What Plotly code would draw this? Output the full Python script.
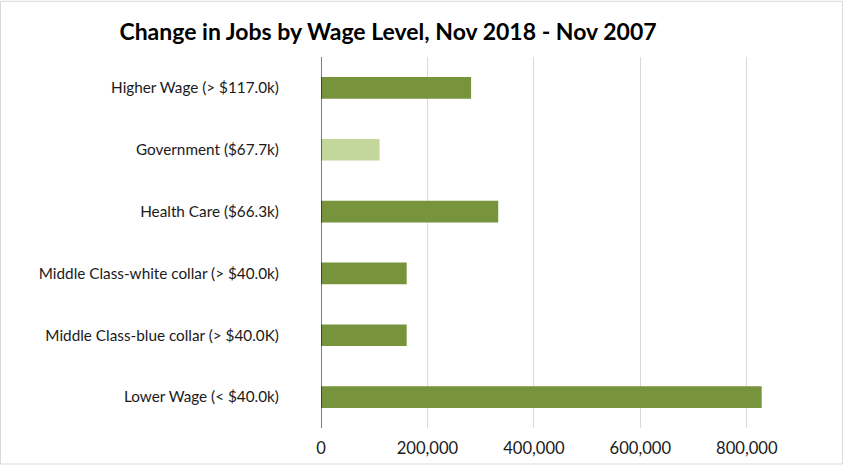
import plotly.graph_objects as go

categories = [
    "Higher Wage (> $117.0k)",
    "Government ($67.7k)",
    "Health Care ($66.3k)",
    "Middle Class-white collar (> $40.0k)",
    "Middle Class-blue collar (> $40.0K)",
    "Lower Wage (< $40.0k)",
]
values = [282000, 110000, 333000, 161000, 161000, 828000]
colors = ["#77933C", "#C3D69B", "#77933C", "#77933C", "#77933C", "#77933C"]
tick_vals = [0, 200000, 400000, 600000, 800000]
tick_text = ["0", "200,000", "400,000", "600,000", "800,000"]

W, H = 843, 470
L, R, T, B = 321, 43, 57, 37
pw, ph = W - L - R, H - T - B

font_fam = "Lato, sans-serif"

fig = go.Figure(go.Bar(
    y=categories, x=values, orientation="h",
    marker=dict(color=colors, line=dict(width=0)),
    hoverinfo="x+y",
))

fig.update_layout(
    width=W, height=H, autosize=False,
    margin=dict(l=L, r=R, t=T, b=B),
    paper_bgcolor="white", plot_bgcolor="white",
    bargap=0.65,
    showlegend=False,
    font=dict(family=font_fam, size=15, color="#1a1a1a"),
    title=dict(
        text="<b>Change in Jobs by Wage Level, Nov 2018 - Nov 2007</b>",
        x=388 / W, xanchor="center", y=1 - 32 / H, yanchor="middle",
        font=dict(family=font_fam, size=23, color="black"),
    ),
    xaxis=dict(
        range=[0, 900000], tickvals=tick_vals, ticktext=tick_text,
        showgrid=True, gridcolor="#D9D9D9", gridwidth=1,
        zeroline=False, showline=False,
        ticks="outside", ticklen=5, tickcolor="rgba(0,0,0,0)",
        tickfont=dict(size=16.6, color="#1a1a1a"),
    ),
    yaxis=dict(
        categoryorder="array", categoryarray=categories, autorange="reversed",
        showgrid=False, zeroline=False,
        showline=False,
        ticks="outside", ticklen=38, tickcolor="rgba(0,0,0,0)",
        tickfont=dict(size=15.3, color="#1a1a1a"),
    ),
    shapes=[
        dict(type="line", xref="x", yref="paper", x0=0, x1=0, y0=0, y1=1,
             line=dict(color="black", width=1)),
        dict(type="rect", xref="paper", yref="paper",
             x0=(0.5 - L) / pw, x1=(W - 0.5 - L) / pw,
             y0=(H - B - (H - 0.5)) / ph, y1=(H - B - 0.5) / ph,
             line=dict(color="#D9D9D9", width=1), fillcolor="rgba(0,0,0,0)", layer="below"),
    ],
)

post = (
    "document.body.style.margin='0';"
    "document.body.style.overflow='hidden';"
)
fig.write_html("out.html", post_script=post,
               config={"displayModeBar": False})
